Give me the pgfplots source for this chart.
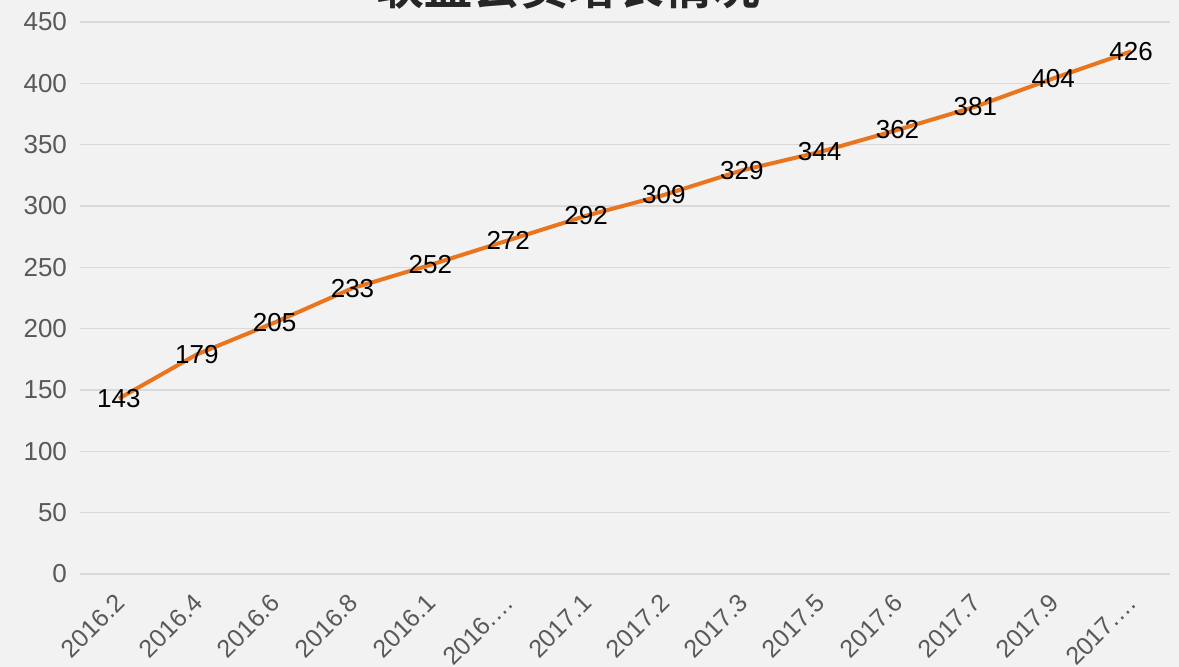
\documentclass[border=0pt]{standalone}
\usepackage{pgfplots}
\pgfplotsset{compat=1.18}
\usepackage{fontspec}
\setmainfont{Liberation Sans}
\newfontfamily\cjk{Noto Sans CJK SC}[BoldFont={* Bold}]
\definecolor{bgc}{HTML}{F2F2F2}
\definecolor{gridc}{HTML}{D9D9D9}
\definecolor{tickc}{HTML}{595959}
\definecolor{linec}{HTML}{E9761F}
\begin{document}
\begin{tikzpicture}[x=1pt,y=1pt]
\fill[bgc] (0,0) rectangle (589.5,333.5);
\begin{axis}[
  at={(40pt,46.5pt)}, anchor=south west,
  scale only axis, width=545pt, height=276pt,
  xmin=-0.5, xmax=13.5, ymin=0, ymax=450,
  ytick={0,50,...,450},
  xtick={0,...,13},
  xticklabels={2016.2,2016.4,2016.6,2016.8,2016.1,2016.…,2017.1,2017.2,2017.3,2017.5,2017.6,2017.7,2017.9,2017.…},
  axis line style={draw=none},
  major tick length=0pt,
  xmajorgrids=false, ymajorgrids=true,
  major grid style={draw=gridc, line width=0.8pt},
  /pgf/number format/assume math mode=true,
  yticklabel style={font=\fontsize{13}{15}\selectfont, text=tickc, xshift=-3pt},
  xticklabel style={font=\fontsize{12.5}{15}\selectfont, text=tickc, xshift=3pt, yshift=-10pt, rotate=45, anchor=east},
  clip=false,
  nodes near coords,
  every node near coord/.style={anchor=center, font=\fontsize{13}{15}\selectfont, text=black},
  point meta=explicit symbolic,
]
\addplot[linec, line width=2pt, mark=none] table[meta=y] {
x y
0 143
1 179
2 205
3 233
4 252
5 272
6 292
7 309
8 329
9 344
10 362
11 381
12 404
13 426
};
\end{axis}
\node[anchor=base, font=\cjk\bfseries\fontsize{24}{28}\selectfont, text={black!85}] at (284pt,331pt) {联盟会员增长情况};
\pgfresetboundingbox
\path[use as bounding box] (0,0) rectangle (589.5,333.5);
\end{tikzpicture}
\end{document}
